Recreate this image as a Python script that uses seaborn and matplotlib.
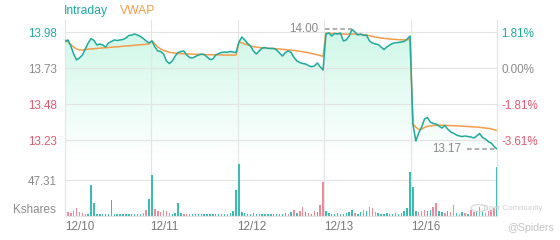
import numpy as np
import pandas as pd
import matplotlib
matplotlib.use("Agg")
import matplotlib.pyplot as plt
import seaborn as sns
from matplotlib.patches import Circle

# ---------------- data ----------------
days = ["12/10", "12/11", "12/12", "12/13", "12/16"]
prev_close = 13.731

day1_price = [13.915, 13.927, 13.885, 13.829, 13.788, 13.802, 13.822, 13.864, 13.906, 13.937,
              13.923, 13.892, 13.899, 13.892, 13.878, 13.906, 13.916, 13.927, 13.923, 13.927,
              13.930, 13.940, 13.958, 13.961, 13.968, 13.961, 13.951, 13.937, 13.920, 13.906]
day2_price = [13.920, 13.878, 13.851, 13.847, 13.829, 13.781, 13.763, 13.781, 13.815, 13.840,
              13.847, 13.850, 13.822, 13.805, 13.802, 13.812, 13.822, 13.829, 13.826, 13.808,
              13.791, 13.795, 13.822, 13.833, 13.840, 13.843, 13.841, 13.847, 13.843, 13.840]
day3_price = [13.913, 13.947, 13.927, 13.902, 13.885, 13.850, 13.830, 13.850, 13.871, 13.874,
              13.868, 13.868, 13.868, 13.857, 13.836, 13.815, 13.840, 13.850, 13.840, 13.805,
              13.781, 13.770, 13.763, 13.760, 13.749, 13.741, 13.746, 13.767, 13.741, 13.718]
day4_price = [13.968, 13.975, 13.954, 13.972, 13.968, 13.975, 13.920, 13.927, 13.954, 14.000,
              13.982, 13.961, 13.968, 13.958, 13.961, 13.920, 13.906, 13.899, 13.895, 13.878,
              13.861, 13.878, 13.892, 13.902, 13.908, 13.909, 13.913, 13.916, 13.933, 13.954]
day5_price = [13.343, 13.225, 13.281, 13.322, 13.378, 13.388, 13.357, 13.347, 13.343, 13.329,
              13.315, 13.333, 13.308, 13.288, 13.279, 13.267, 13.260, 13.256, 13.260, 13.256,
              13.253, 13.246, 13.260, 13.277, 13.249, 13.239, 13.220, 13.211, 13.187, 13.170]

day1_vwap = [13.927, 13.913, 13.895, 13.878, 13.864, 13.857, 13.857, 13.861, 13.863, 13.864,
             13.866, 13.868, 13.870, 13.871, 13.873, 13.874, 13.877, 13.878, 13.879, 13.881,
             13.883, 13.885, 13.886, 13.888, 13.890, 13.892, 13.894, 13.895, 13.897, 13.899]
day2_vwap = [13.920, 13.899, 13.878, 13.864, 13.854, 13.847, 13.841, 13.838, 13.835, 13.833,
             13.832, 13.831, 13.829, 13.829, 13.828, 13.827, 13.827, 13.826, 13.825, 13.824,
             13.824, 13.824, 13.824, 13.823, 13.823, 13.822, 13.822, 13.822, 13.822, 13.822]
day3_vwap = [13.913, 13.906, 13.899, 13.892, 13.885, 13.880, 13.877, 13.874, 13.872, 13.871,
             13.870, 13.868, 13.867, 13.865, 13.864, 13.862, 13.860, 13.858, 13.856, 13.854,
             13.851, 13.848, 13.845, 13.841, 13.838, 13.833, 13.829, 13.824, 13.819, 13.812]
day4_vwap = [13.975, 13.974, 13.972, 13.972, 13.971, 13.970, 13.968, 13.967, 13.967, 13.968,
             13.968, 13.967, 13.965, 13.963, 13.960, 13.956, 13.952, 13.947, 13.944, 13.940,
             13.938, 13.936, 13.933, 13.932, 13.931, 13.929, 13.928, 13.927, 13.928, 13.930]
day5_vwap = [13.343, 13.322, 13.305, 13.308, 13.319, 13.326, 13.329, 13.333, 13.334, 13.335,
             13.335, 13.334, 13.333, 13.332, 13.331, 13.331, 13.329, 13.328, 13.327, 13.326,
             13.324, 13.323, 13.322, 13.320, 13.317, 13.315, 13.313, 13.309, 13.304, 13.298]

volume = [25, 5, 4, 6, 10, 5, 4, 3, 3, 41, 17, 3, 2, 2, 3, 2, 21, 2, 2, 3, 2, 2, 3, 2, 3, 2, 3, 4, 8, 23,
          54, 9, 6, 5, 8, 6, 4, 3, 4, 17, 4, 3, 2, 2, 3, 2, 2, 3, 2, 2, 3, 2, 3, 2, 2, 3, 3, 4, 6, 34,
          69, 5, 4, 3, 3, 4, 2, 2, 3, 2, 3, 2, 3, 2, 2, 3, 4, 3, 5, 8, 4, 6, 12, 5, 4, 3, 6, 5, 14, 45,
          6, 4, 3, 3, 4, 3, 3, 4, 5, 8, 4, 3, 5, 8, 6, 12, 10, 5, 4, 3, 3, 4, 3, 3, 4, 3, 4, 6, 10, 58,
          38, 6, 5, 7, 8, 6, 8, 12, 17, 6, 5, 4, 6, 5, 14, 4, 3, 5, 4, 3, 8, 5, 6, 12, 5, 4, 6, 8, 10, 65]
down_bars = [1, 2, 3, 4, 5, 6, 7, 27, 28, 31, 32, 33, 34, 35, 36, 41, 42, 77, 79, 81, 82, 84, 86, 88, 89,
             100, 103, 105, 106, 107, 122, 123, 124, 127, 128, 131, 133, 134, 136, 138, 140, 141, 143,
             145, 146, 147, 148]

price_ticks = [13.23, 13.48, 13.73, 13.98]
pct_labels = ["-3.61%", "-1.81%", "0.00%", "1.81%"]
vol_tick = 47.31

# ---------------- styling ----------------
sns.set_theme(style="white")
plt.rcParams["font.family"] = ["Liberation Sans", "DejaVu Sans"]

TEAL = "#1fa99c"
ORANGE = "#f39c4a"
PINK = "#e05a70"
GRAY = "#8a8a8a"
GRID = "#e4e4e4"
VOL_UP = "#3dbdb1"
VOL_DN = "#f08b9c"
FS = 8.4

price = day1_price + day2_price + day3_price + day4_price + day5_price
vwap = day1_vwap + day2_vwap + day3_vwap + day4_vwap + day5_vwap
n_per_day = len(day1_price)
slot = np.arange(len(price))
df = pd.DataFrame({"slot": slot, "price": price, "vwap": vwap})
bounds = [d * n_per_day - 0.5 for d in range(1, len(days))]

fig = plt.figure(figsize=(5.6, 2.4), dpi=100)
W, H = 560, 240
x0, x1 = 65, 497
ax = fig.add_axes([x0 / W, 1 - 160 / H, (x1 - x0) / W, 140 / H])
axv = fig.add_axes([x0 / W, 1 - 216 / H, (x1 - x0) / W, 56 / H])

ymin, ymax = 13.0932, 14.0654
xlim = (0, len(price) - 1)

# gradient fill under the price line (white at bottom -> mint at top)
poly = ax.fill_between(df["slot"], df["price"], ymin, facecolor="none", edgecolor="none")
g = np.linspace(0, 1, 256).reshape(-1, 1, 1)
top = np.array([0.80, 0.968, 0.905])
bot = np.array([1.0, 1.0, 1.0])
img = bot * (1 - g) + top * g
img = np.repeat(img, 2, axis=1)
im = ax.imshow(img, extent=[xlim[0], xlim[1], ymin, ymax], aspect="auto", origin="lower",
               zorder=1, interpolation="bilinear")
im.set_clip_path(poly.get_paths()[0], transform=ax.transData)

for t in price_ticks:
    ax.axhline(t, color=GRID, lw=0.8, zorder=2)
for b in bounds:
    ax.axvline(b, color=GRID, lw=0.8, zorder=2)
    axv.axvline(b, color=GRID, lw=0.8, zorder=0)

sns.lineplot(data=df, x="slot", y="vwap", ax=ax, color=ORANGE, lw=1.1, zorder=3)
sns.lineplot(data=df, x="slot", y="price", ax=ax, color=TEAL, lw=1.1, zorder=4)

ax.set_xlim(*xlim)
ax.set_ylim(ymin, ymax)
ax.set_xlabel("")
ax.set_ylabel("")
ax.set_xticks([])
ax.set_yticks(price_ticks)
ax.set_yticklabels([f"{t:.2f}" for t in price_ticks], fontsize=FS)
lab_colors = [PINK, PINK, GRAY, TEAL]
for lbl, c in zip(ax.get_yticklabels(), lab_colors):
    lbl.set_color(c)
ax.tick_params(axis="y", length=0, pad=5.8)
for s in ["top", "bottom"]:
    ax.spines[s].set_visible(False)
for s in ["left", "right"]:
    ax.spines[s].set_color(GRID)
    ax.spines[s].set_linewidth(0.8)

axr = ax.twinx()
axr.set_ylim(ymin, ymax)
axr.set_yticks(price_ticks)
axr.set_yticklabels(pct_labels, fontsize=FS)
for lbl, c in zip(axr.get_yticklabels(), lab_colors):
    lbl.set_color(c)
axr.tick_params(axis="y", length=0, pad=2.9)
for s in axr.spines.values():
    s.set_visible(False)

# high / last annotations
d4_start = 3 * n_per_day
hi_idx = d4_start + int(np.argmax(day4_price))
hi_val = max(day4_price)
ax.plot([d4_start - 0.3, hi_idx], [hi_val, hi_val], color="#9a9a9a", lw=1.1, dashes=(3, 2), zorder=5)
ax.text(d4_start - 2.5, hi_val, f"{hi_val:.2f}", ha="right", va="center", fontsize=FS, color=GRAY, zorder=6)
last_val = price[-1]
ax.plot([slot[-1] - 10.5, slot[-1]], [last_val, last_val], color="#9a9a9a", lw=1.1, dashes=(3, 2), zorder=5)
ax.text(slot[-1] - 12.5, last_val, f"{last_val:.2f}", ha="right", va="center", fontsize=FS, color=GRAY, zorder=6)

# volume
colors = [VOL_DN if i in down_bars else VOL_UP for i in slot]
axv.bar(slot, volume, width=0.5, color=colors, linewidth=0, zorder=2)
axv.axhline(vol_tick, color=GRID, lw=0.8, zorder=0)
axv.set_xlim(*xlim)
axv.set_ylim(0, 73.6)
axv.set_yticks([vol_tick])
axv.set_yticklabels([f"{vol_tick:.2f}"], fontsize=FS, color=GRAY)
axv.tick_params(axis="y", length=0, pad=5.8)
axv.set_xticks([0] + bounds)
axv.set_xticklabels(days, fontsize=FS, color="#777777", ha="left")
axv.tick_params(axis="x", length=0, pad=3.5)
axv.text(-0.02, 0.1, "Kshares", transform=axv.transAxes, ha="right", va="center", fontsize=FS, color=GRAY)
axv.spines["top"].set_visible(False)
for s in ["left", "right", "bottom"]:
    axv.spines[s].set_color(GRID)
    axv.spines[s].set_linewidth(0.8)

# legend-like titles
fig.text(64 / W, 1 - 11 / H, "Intraday", color=TEAL, fontsize=FS + 0.3, ha="left", va="center")
fig.text(120 / W, 1 - 11 / H, "VWAP", color=ORANGE, fontsize=FS + 0.3, ha="left", va="center")

# watermark
fig.patches.append(Circle((479 / W, 1 - 208 / H), 8 / W, transform=fig.transFigure,
                          fill=False, edgecolor="#d4d4d4", lw=1.0, alpha=0.8))
fig.text(482 / W, 1 - 208 / H, "Tiger Community", color="#cfcfcf", fontsize=5.8, ha="left", va="center")
fig.text(507 / W, 1 - 228 / H, "@Spiders", color="#c4c4c4", fontsize=7.6, ha="left", va="center")

fig.savefig("out.png", dpi=100)
